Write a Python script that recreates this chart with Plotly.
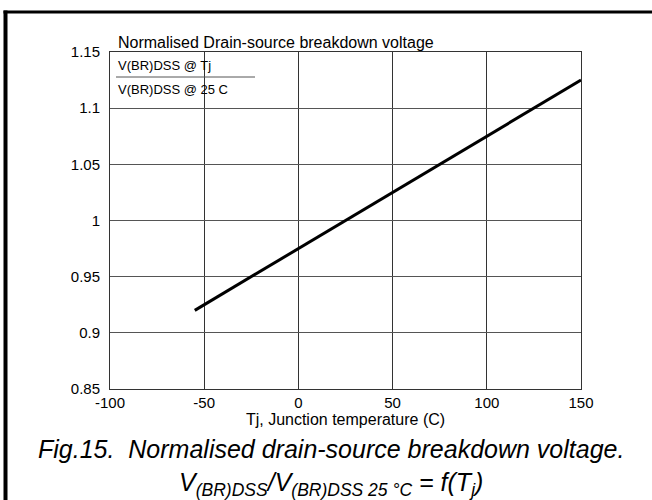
import plotly.graph_objects as go

# Data
tj = [-55, -25, 0, 25, 50, 75, 100, 125, 150]
ratio = [0.920, 0.950, 0.975, 1.000, 1.025, 1.050, 1.075, 1.100, 1.125]

x_ticks = [-100, -50, 0, 50, 100, 150]
x_tick_labels = ["-100", "-50", "0", "50", "100", "150"]
y_ticks = [0.85, 0.9, 0.95, 1.0, 1.05, 1.1, 1.15]
y_tick_labels = ["0.85", "0.9", "0.95", "1", "1.05", "1.1", "1.15"]

W, H = 652, 500
L, R, T, B = 110, 71, 52, 111
PW, PH = W - L - R, H - T - B

def px(x):
    return (x - L) / PW

def py(y):
    return 1 - (y - T) / PH

FONT = "Liberation Sans, Arial, Helvetica, sans-serif"

fig = go.Figure()
fig.add_trace(go.Scatter(x=tj, y=ratio, mode="lines",
                         line=dict(color="black", width=3), showlegend=False,
                         hoverinfo="skip"))

fig.update_layout(
    width=W, height=H,
    margin=dict(l=L, r=R, t=T, b=B),
    paper_bgcolor="white", plot_bgcolor="white",
    font=dict(family=FONT, size=15, color="black"),
    xaxis=dict(range=[-100, 150], tickvals=x_ticks, ticktext=x_tick_labels,
               showgrid=True, gridcolor="#333", gridwidth=1, zeroline=False,
               showline=True, linecolor="#333", linewidth=1, mirror=True,
               ticks="", tickfont=dict(size=15), fixedrange=True,
               title=dict(text="Tj, Junction temperature (C)", font=dict(size=16), standoff=2)),
    yaxis=dict(range=[0.85, 1.15], tickvals=y_ticks, ticktext=y_tick_labels,
               showgrid=True, gridcolor="#555", gridwidth=1, zeroline=False,
               showline=True, linecolor="#333", linewidth=1, mirror=True,
               ticks="", tickfont=dict(size=15), ticklabelstandoff=6, fixedrange=True),
)

# Frame lines (left and top)
fig.add_shape(type="line", xref="paper", yref="paper",
              x0=px(5.5), x1=px(5.5), y0=py(10.5), y1=py(502),
              line=dict(color="black", width=4))
fig.add_shape(type="line", xref="paper", yref="paper",
              x0=px(3.5), x1=px(655), y0=py(12), y1=py(12),
              line=dict(color="black", width=3))

# Fraction line inside plot
fig.add_shape(type="line", xref="paper", yref="paper",
              x0=px(116), x1=px(255), y0=py(77), y1=py(77),
              line=dict(color="#555", width=1))

ann = [
    dict(text="Normalised Drain-source breakdown voltage", x=px(116), y=py(42), size=16),
    dict(text="V(BR)DSS @ Tj", x=px(116), y=py(65), size=13),
    dict(text="V(BR)DSS @ 25 C", x=px(116), y=py(89), size=13),
]
for a in ann:
    fig.add_annotation(text=a["text"], x=a["x"], y=a["y"], xref="paper", yref="paper",
                       xanchor="left", yanchor="middle", showarrow=False,
                       font=dict(family=FONT, size=a["size"], color="black"))

fig.add_annotation(text="<i>Fig.15.  Normalised drain-source breakdown voltage.</i><br>"
                        "<i>V<sub>(BR)DSS</sub>/V<sub>(BR)DSS 25 °C</sub> = f(T<sub>j</sub>)</i>",
                   x=px(331), y=py(467), xref="paper", yref="paper",
                   xanchor="center", yanchor="middle", align="center", showarrow=False,
                   font=dict(family=FONT, size=25, color="black"))

fig.write_html("out.html", config={"displayModeBar": False},
               post_script="document.body.style.margin='0';document.body.style.overflow='hidden';")
